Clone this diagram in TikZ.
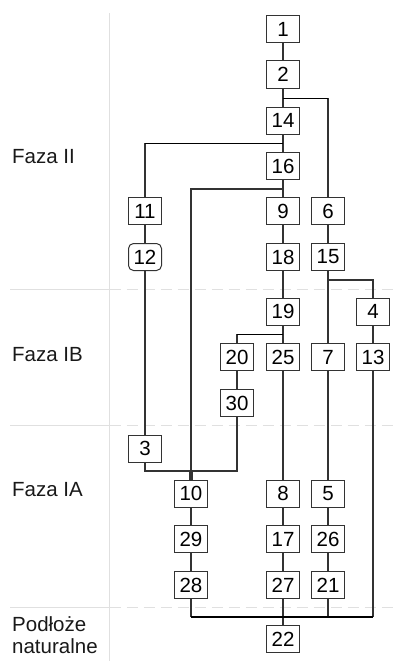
\documentclass[tikz,border=0pt]{standalone}
\usepackage{fontspec}
\setmainfont{Liberation Sans}
\begin{document}
\begin{tikzpicture}[x=1pt,y=-1pt,
  box/.style={draw=black!80,line width=1pt,fill=white,minimum width=33pt,minimum height=27pt,inner sep=0pt,font=\fontsize{20.5}{22}\selectfont},
  rbox/.style={box,rounded corners=5pt},
  lab/.style={anchor=west,inner sep=0pt,font=\fontsize{20.5}{22.5}\selectfont,text=black!90},
  conn/.style={draw=black!80,line width=1.2pt},
  hconn/.style={draw=black,line width=1.7pt},
  sep/.style={draw=black!12,line width=1pt},
  dsep/.style={draw=black!12,line width=1pt,dash pattern=on 11pt off 6pt}]
\useasboundingbox (0,0) rectangle (404,661);
% guides
\draw[sep] (109.5,13) -- (109.5,661);
\draw[sep] (10,289) -- (109.5,289);
\draw[sep] (10,425) -- (109.5,425);
\draw[sep] (10,607) -- (109.5,607);
\draw[dsep] (109.5,289) -- (395,289);
\draw[dsep] (109.5,425) -- (395,425);
\draw[dsep] (109.5,607) -- (395,607);
% phase labels
\node[lab] (fII) at (12,157) {Faza II};
\node[lab] (fIB) at (12,355) {Faza IB};
\node[lab] (fIA) at (12,490) {Faza IA};
\node[lab,align=left] (fP) at (12,635) {Podłoże\\naturalne};
\coordinate (bl) at (373,617);
\coordinate (j3) at (189.5,471);
\coordinate (j30) at (192.5,471);
% boxes
\node[box] (n1) at (283,29) {1};
\node[box] (n2) at (283,74.5) {2};
\node[box] (n14) at (283,120.5) {14};
\node[box] (n16) at (283,166) {16};
\node[box] (n11) at (145,211) {11};
\node[box] (n9) at (283,211) {9};
\node[box] (n6) at (328,211) {6};
\node[rbox] (n12) at (145,257) {12};
\node[box] (n18) at (283,257) {18};
\node[box] (n15) at (328,257) {15};
\node[box] (n19) at (283,311.5) {19};
\node[box] (n4) at (373,311.5) {4};
\node[box] (n20) at (237,357) {20};
\node[box] (n25) at (283,357) {25};
\node[box] (n7) at (328,357) {7};
\node[box] (n13) at (373,357) {13};
\node[box] (n30) at (237,403) {30};
\node[box] (n3) at (145,448.5) {3};
\node[box] (n10) at (191,493.5) {10};
\node[box] (n8) at (283,493.5) {8};
\node[box] (n5) at (328,493.5) {5};
\node[box] (n29) at (191,539) {29};
\node[box] (n17) at (283,539) {17};
\node[box] (n26) at (328,539) {26};
\node[box] (n28) at (191,585) {28};
\node[box] (n27) at (283,585) {27};
\node[box] (n21) at (328,585) {21};
\node[box] (n22) at (283,639) {22};
% vertical connectors
\draw[conn] (n1) -- (n2);
\draw[conn] (n2) -- (n14);
\draw[conn] (n14) -- (n16);
\draw[conn] (n16) -- (n9);
\draw[conn] (n9) -- (n18);
\draw[conn] (n18) -- (n19);
\draw[conn] (n19) -- (n25);
\draw[conn] (n25) -- (n8);
\draw[conn] (n8) -- (n17);
\draw[conn] (n17) -- (n27);
\draw[conn] (n27) -- (n22);
\draw[conn] (n6) -- (n15);
\draw[conn] (n15) -- (n7);
\draw[conn] (n7) -- (n5);
\draw[conn] (n5) -- (n26);
\draw[conn] (n26) -- (n21);
\draw[conn] (n4) -- (n13);
\draw[conn] (n11) -- (n12);
\draw[conn] (n12) -- (n3);
\draw[conn] (n20) -- (n30);
\draw[conn] (n10) -- (n29);
\draw[conn] (n29) -- (n28);
% branches
\draw[conn] (n2.south) ++(0,10) coordinate (b2) -| (n6.north);
\draw[hconn] (b2) -- (b2 -| n6.north);
\draw[conn] (n14.south) ++(0,9) coordinate (b14) -| (n11.north);
\draw[hconn] (b14) -- (b14 -| n11.north);
\draw[conn] (n16.south) ++(0,9) coordinate (b16) -| (n10.north);
\draw[conn] (n15.south) ++(0,9) coordinate (b15) -| (n4.north);
\draw[conn] (n19.south) ++(0,9) coordinate (b19) -| (n20.north);
\draw[hconn] (b19) -- (b19 -| n20.north);
\draw[conn] (n3.south) |- (j3) -- (j3 |- n10.north);
\draw[conn] (n30.south) |- (j30) -- (j30 |- n10.north);
\draw[conn] (n13.south) -- (bl);
\draw[conn] (n21.south) -- (n21.south |- bl);
\draw[conn] (n28.south) -- (n28.south |- bl);
\draw[hconn] (n28.south |- bl) -- (bl);
\end{tikzpicture}
\end{document}
